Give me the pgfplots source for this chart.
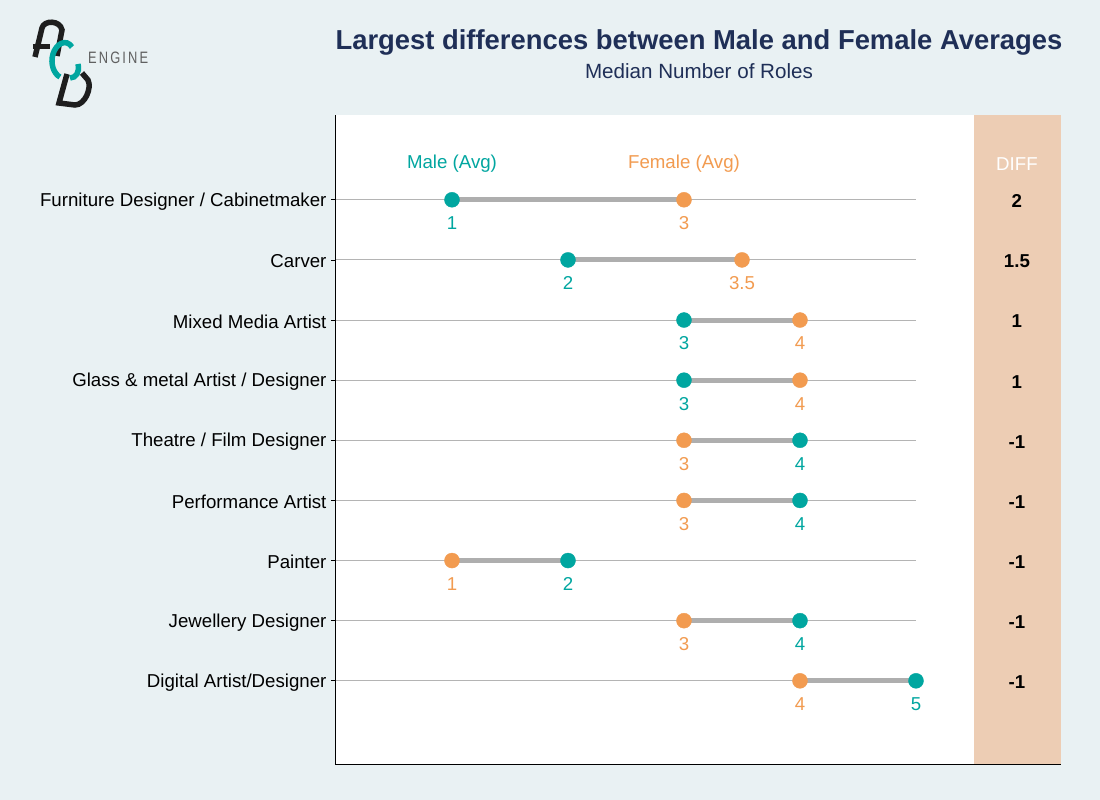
\documentclass[border=0pt]{standalone}
\usepackage{pgfplots}
\usepackage{pgfplotstable}
\usepackage{fontspec}
\setmainfont{Liberation Sans}
\pgfplotsset{compat=1.18}
\usetikzlibrary{calc}
\pgfdeclarelayer{bglayer}
\pgfsetlayers{bglayer,main}
\definecolor{bgcol}{HTML}{E9F1F3}
\definecolor{tealc}{HTML}{00A6A0}
\definecolor{orangec}{HTML}{F29B50}
\definecolor{segc}{HTML}{AEAEAE}
\definecolor{gridc}{HTML}{B4B4B4}
\definecolor{shadec}{HTML}{EDCDB4}
\definecolor{navy}{HTML}{1F2F57}
\definecolor{logok}{HTML}{1E1E1E}
\pgfplotstableread{
row male female diff
9 1 3 2
8 2 3.5 1.5
7 3 4 1
6 3 4 1
5 4 3 -1
4 4 3 -1
3 2 1 -1
2 4 3 -1
1 5 4 -1
}\data
\newcommand{\lbl}{\fontsize{18.67}{22}\selectfont}
\begin{document}
\begin{tikzpicture}[x=1pt,y=1pt]
\begin{axis}[
  scale only axis,
  width=725pt, height=650pt,
  xmin=0, xmax=6.25, ymin=-0.4, ymax=10.41,
  axis x line*=bottom, axis y line*=left,
  axis line style={-, black, line width=1pt},
  axis background/.style={fill=white},
  axis on top,
  xtick=\empty,
  ytick={1,...,9},
  yticklabels={Digital Artist/Designer, Jewellery Designer, Painter, Performance Artist, Theatre / Film Designer, Glass \& metal Artist / Designer, Mixed Media Artist, Carver, Furniture Designer / Cabinetmaker},
  yticklabel style={font=\lbl, text=black, yshift=-1.5pt, xshift=-1pt},
  tick align=outside, major tick length=5pt,
  y tick style={black, line width=0.8pt},
  clip=false,
]
\coordinate (o) at (rel axis cs:0,0);
\addplot[draw=none, fill=shadec] coordinates {(5.5,-0.4) (6.25,-0.4) (6.25,10.41) (5.5,10.41)} -- cycle;
\pgfplotsinvokeforeach{1,...,9}{
  \addplot[gridc, line width=0.9pt] coordinates {(0,#1) (5,#1)};
}
\addplot[segc, line width=5pt] coordinates {(1,9) (3,9)};
\addplot[segc, line width=5pt] coordinates {(2,8) (3.5,8)};
\addplot[segc, line width=5pt] coordinates {(3,7) (4,7)};
\addplot[segc, line width=5pt] coordinates {(3,6) (4,6)};
\addplot[segc, line width=5pt] coordinates {(4,5) (3,5)};
\addplot[segc, line width=5pt] coordinates {(4,4) (3,4)};
\addplot[segc, line width=5pt] coordinates {(2,3) (1,3)};
\addplot[segc, line width=5pt] coordinates {(4,2) (3,2)};
\addplot[segc, line width=5pt] coordinates {(5,1) (4,1)};
\addplot[only marks, mark=*, mark size=7.5pt, color=tealc,
  point meta=explicit symbolic, nodes near coords,
  every node near coord/.style={anchor=center, yshift=-23.5pt, font=\lbl, text=tealc}]
  table[x=male, y=row, meta=male] {\data};
\addplot[only marks, mark=*, mark size=7.5pt, color=orangec,
  point meta=explicit symbolic, nodes near coords,
  every node near coord/.style={anchor=center, yshift=-23.5pt, font=\lbl, text=orangec}]
  table[x=female, y=row, meta=female] {\data};
\addplot[only marks, mark=none, draw=none,
  point meta=explicit symbolic, nodes near coords,
  every node near coord/.style={anchor=center, yshift=-1.5pt, font=\bfseries\lbl, text=black}]
  table[x expr=5.87, y=row, meta=diff] {\data};
\node[text=tealc, font=\lbl] at (axis cs:1,9.6) {Male (Avg)};
\node[text=orangec, font=\lbl] at (axis cs:3,9.6) {Female (Avg)};
\node[text=white, font=\lbl] at (axis cs:5.87,9.6) {DIFF};
\end{axis}
\begin{scope}[shift={($(o)+(-336,-35)$)}]
\begin{pgfonlayer}{bglayer}
\fill[bgcol] (0,0) rectangle (1100,800);
\end{pgfonlayer}
\begin{scope}[yscale=-1, shift={(0,-800)}]
\draw[logok, line width=5.5pt] (35,57) -- (42,28) .. controls (44,20) and (60,20) .. (62,30) -- (57,56);
\draw[logok, line width=5pt] (33,47) -- (50,47);
\draw[tealc, line width=5.5pt] (72,47) .. controls (66,38) and (56,44) .. (53,54) .. controls (50,64) and (54,74) .. (60,77);
\draw[tealc, line width=5.5pt] (78,64) .. controls (80,72) and (76,78) .. (70,78);
\draw[logok, line width=5.5pt] (67,74) -- (59,103) -- (75,105) .. controls (85,105) and (92,88) .. (88,80) -- (82,73);
\end{scope}
\node[anchor=west, text=gray!75!black, inner sep=0pt, xscale=0.78, font=\fontsize{16.5}{20}\selectfont] at (88,742) {E\,N\,G\,I\,N\,E};
\node[text=navy, font=\bfseries\fontsize{27.4}{31}\selectfont] at (699,758) {Largest differences between Male and Female Averages};
\node[text=navy, font=\fontsize{20.6}{24}\selectfont] at (699,729) {Median Number of Roles};
\end{scope}
\end{tikzpicture}
\end{document}
